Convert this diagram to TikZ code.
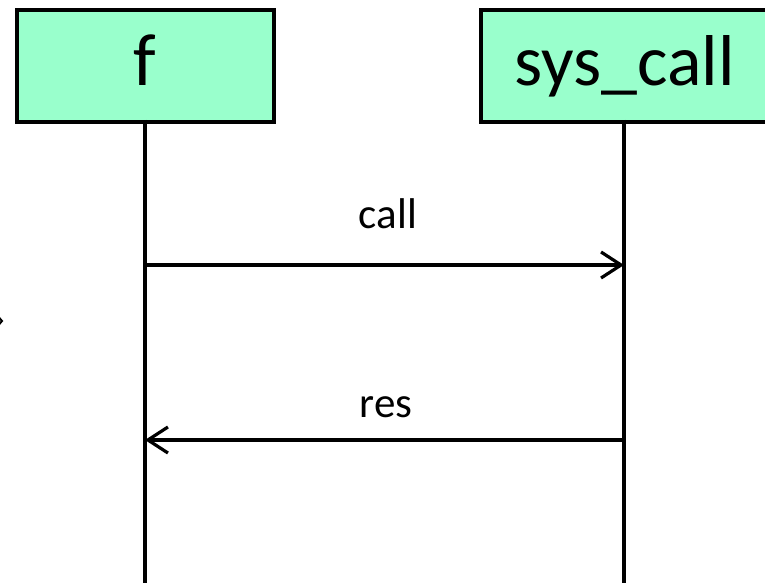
\documentclass[tikz,border=0pt]{standalone}
\usepackage{fontspec}
\setmainfont{Carlito}
\usetikzlibrary{arrows.meta}
\definecolor{lifebox}{RGB}{153,255,204}
\begin{document}
\begin{tikzpicture}[x=1pt,y=-1pt,
  actor/.style={draw=black,line width=4pt,fill=lifebox,anchor=north west,
    minimum height=112pt,inner sep=0pt,font=\fontsize{72}{72}\selectfont},
  lifeline/.style={line width=3.5pt},
  msg/.style={line width=3.2pt,-{Straight Barb[length=20pt,width=26pt,line width=3.2pt]}},
  msglabel/.style={font=\fontsize{43}{43}\selectfont,anchor=base}]
\useasboundingbox (0,0) rectangle (765,583);
\begin{scope}
\clip (0,0) rectangle (765,583);
% participants
\node[actor,minimum width=257pt] (f) at (15,8) {};
\node[anchor=base] at (145,86) {\fontsize{74}{74}\selectfont f};
\node[actor,minimum width=300pt] (sc) at (479,8) {};
\node[anchor=base west] at (511,86) {\fontsize{72}{72}\selectfont sys\_call};
% lifelines
\coordinate (fbot) at (145,590);
\coordinate (scbot) at (624,590);
\coordinate (ftop) at (145,120);
\coordinate (sctop) at (624,120);
\draw[lifeline] (ftop) -- (fbot);
\draw[lifeline] (sctop) -- (scbot);
% messages
\coordinate (c1) at (145,265);
\coordinate (c2) at (624,265);
\coordinate (r1) at (624,440);
\coordinate (r2) at (145,440);
\draw[msg] (c1) -- (c2);
\draw[msg] (r1) -- (r2);
\node[msglabel] (lcall) at (388,228) {call};
\node[msglabel] (lres) at (386,417) {res};
% small mark at the left edge
\draw[line width=2pt] (-4,314) -- (2,321) -- (-4,328);
\end{scope}
\end{tikzpicture}
\end{document}
